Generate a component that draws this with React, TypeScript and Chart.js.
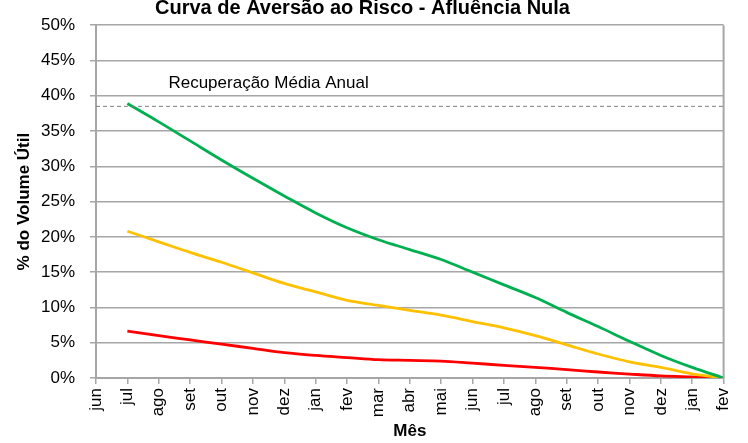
import React, { useEffect, useRef } from "react";
import { Chart, registerables } from "chart.js";

Chart.register(...registerables);

const months = ["jun", "jul", "ago", "set", "out", "nov", "dez", "jan", "fev", "mar", "abr", "mai", "jun", "jul", "ago", "set", "out", "nov", "dez", "jan", "fev"];
const greenCurve = [null, 38.9, 36.3, 33.6, 30.9, 28.3, 25.8, 23.4, 21.3, 19.6, 18.2, 16.8, 15.0, 13.2, 11.4, 9.3, 7.3, 5.2, 3.2, 1.5, 0];
const yellowCurve = [null, 20.8, 19.3, 17.8, 16.4, 14.9, 13.4, 12.2, 11.0, 10.3, 9.6, 8.9, 8.0, 7.1, 6.0, 4.7, 3.4, 2.3, 1.5, 0.6, 0];
const redCurve = [null, 6.65, 6.0, 5.4, 4.8, 4.2, 3.6, 3.2, 2.9, 2.6, 2.5, 2.4, 2.1, 1.8, 1.5, 1.2, 0.85, 0.56, 0.3, 0.15, 0];
const recoveryLevel = 38.5;
const recoveryLine = months.map(() => recoveryLevel);
const recoveryLabel = "Recuperação Média Anual";
const recoveryLabelAt = 5.5;
const yMin = 0;
const yMax = 50;
const yStep = 5;

const FONT = "'Liberation Sans', Arial, sans-serif";

export default function App() {
  const ref = useRef<HTMLCanvasElement | null>(null);

  useEffect(() => {
    if (!ref.current) return;
    const labelPlugin = {
      id: "recoveryLabel",
      afterDatasetsDraw(chart: any) {
        const { ctx, scales, chartArea } = chart;
        const x = scales.x.getPixelForValue(recoveryLabelAt);
        const y = scales.y.getPixelForValue(recoveryLevel);
        ctx.save();
        ctx.font = `17px ${FONT}`;
        ctx.fillStyle = "#000";
        ctx.textAlign = "center";
        ctx.textBaseline = "middle";
        ctx.fillText(recoveryLabel, x, y - 23);
        ctx.strokeStyle = "#a6a6a6";
        ctx.lineWidth = 2;
        ctx.beginPath();
        ctx.moveTo(chartArea.right, chartArea.top);
        ctx.lineTo(chartArea.right, chartArea.bottom);
        ctx.stroke();
        ctx.restore();
      },
    };

    const chart = new Chart(ref.current, {
      type: "line",
      data: {
        labels: months,
        datasets: [
          {
            label: recoveryLabel,
            data: recoveryLine,
            borderColor: "#7f7f7f",
            borderWidth: 1,
            borderDash: [4, 3],
            pointRadius: 0,
            tension: 0,
          },
          {
            label: "verde",
            data: greenCurve,
            borderColor: "#00b050",
            borderWidth: 2.8,
            pointRadius: 0,
            tension: 0.35,
          },
          {
            label: "amarelo",
            data: yellowCurve,
            borderColor: "#ffc000",
            borderWidth: 2.8,
            pointRadius: 0,
            tension: 0.35,
          },
          {
            label: "vermelho",
            data: redCurve,
            borderColor: "#ff0000",
            borderWidth: 2.8,
            pointRadius: 0,
            tension: 0.35,
          },
        ],
      },
      options: {
        responsive: false,
        animation: false,
        layout: { padding: { left: 0, right: 23, top: 0, bottom: 0 } },
        plugins: {
          legend: { display: false },
          tooltip: { enabled: false },
          title: {
            display: true,
            text: "Curva de Aversão ao Risco - Afluência Nula",
            color: "#000",
            font: { family: FONT, size: 20, weight: "bold" },
            padding: { top: -7, bottom: 5 },
          },
        },
        scales: {
          x: {
            type: "category",
            offset: false,
            grid: {
              drawOnChartArea: false,
              drawTicks: true,
              tickLength: 6,
              color: "#a6a6a6",
              lineWidth: 1.5,
            },
            border: { display: true, color: "#a6a6a6", width: 2 },
            ticks: {
              autoSkip: false,
              maxRotation: 90,
              minRotation: 90,
              padding: 4,
              color: "#000",
              font: { family: FONT, size: 17 },
            },
            title: {
              display: true,
              text: "Mês",
              color: "#000",
              font: { family: FONT, size: 17, weight: "bold" },
              padding: { top: 0, bottom: 1 },
            },
            afterFit(scale: any) {
              scale.height = 65;
            },
          },
          y: {
            min: yMin,
            max: yMax,
            grid: {
              color: "#a6a6a6",
              lineWidth: 1.5,
              tickLength: 6,
            },
            border: { display: true, color: "#a6a6a6", width: 2 },
            ticks: {
              stepSize: yStep,
              padding: 15,
              color: "#000",
              font: { family: FONT, size: 17 },
              callback: (v: any) => `${v}%`,
            },
            title: {
              display: true,
              text: "% do Volume Útil",
              color: "#000",
              font: { family: FONT, size: 17, weight: "bold" },
              padding: { top: 14, bottom: 0 },
            },
            afterFit(scale: any) {
              scale.width = 96;
            },
          },
        },
      },
      plugins: [labelPlugin],
    });
    return () => chart.destroy();
  }, []);

  return (
    <div style={{ position: "absolute", left: 0, top: 0, width: 748, height: 443, background: "#fff" }}>
      <canvas ref={ref} width={748} height={443} />
    </div>
  );
}
